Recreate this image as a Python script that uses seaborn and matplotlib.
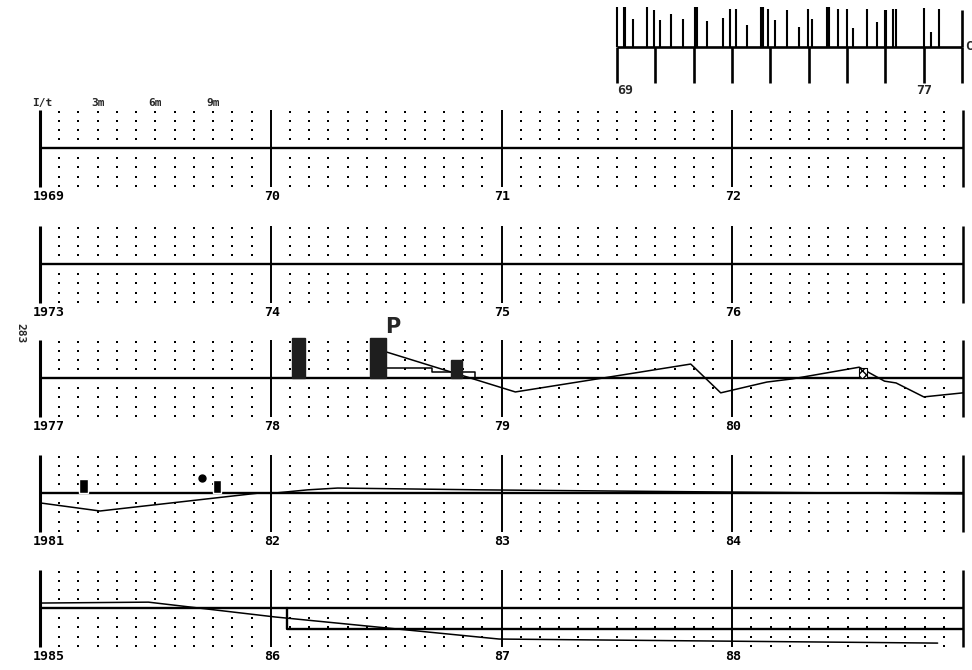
import matplotlib
matplotlib.use("Agg")
import matplotlib.pyplot as plt
import seaborn as sns
import numpy as np
import pandas as pd

# ---- data ----
# each strip covers 4 years
row_starts = [1969, 1973, 1977, 1981, 1985]
row_labels = [["1969", "70", "71", "72"],
              ["1973", "74", "75", "76"],
              ["1977", "78", "79", "80"],
              ["1981", "82", "83", "84"],
              ["1985", "86", "87", "88"]]

# 1977-80 strip
r77_line_x = [1978.50, 1979.06, 1979.33, 1979.82, 1979.95, 1980.15, 1980.26,
              1980.55, 1980.66, 1980.71, 1980.83, 1981.00]
r77_line_y = [2.9, -1.55, -0.45, 1.55, -1.65, -0.45, -0.1, 1.2, -0.35, -0.55, -2.1, -1.65]
r77_step_x = [1978.50, 1978.70, 1978.70, 1978.885, 1978.885]
r77_step_y = [1.1, 1.1, 0.65, 0.65, 0.0]
r77_bar_start = [1978.09, 1978.43, 1978.78]
r77_bar_end = [1978.15, 1978.50, 1978.83]
r77_bar_h = [4.4, 4.4, 2.0]
r77_small_start = [1980.55]
r77_small_end = [1980.585]
r77_small_h = [1.1]

# 1981-84 strip
r81_line_x = [1981.00, 1981.26, 1981.95, 1982.02, 1982.16, 1982.29, 1982.91, 1984.00, 1985.00]
r81_line_y = [-1.1, -2.0, 0.0, 0.0, 0.35, 0.55, 0.35, 0.1, -0.1]
r81_bar_start = [1981.17, 1981.75]
r81_bar_end = [1981.21, 1981.785]
r81_bar_h = [1.6, 1.5]
r81_point_x = [1981.70]
r81_point_y = [1.65]

# 1985-88 strip
r85_line_x = [1985.00, 1985.47, 1986.02, 1986.99, 1988.89]
r85_line_y = [0.55, 0.65, -1.0, -3.45, -3.9]
r85_step_x = [1986.07, 1986.07, 1989.00]
r85_step_y = [0.0, -2.35, -2.35]

# top strip of events 69-77
spike_years = [69.0, 69.17, 69.22, 69.42, 69.78, 69.96, 70.12, 70.41, 70.72, 71.04, 71.10,
               71.34, 71.76, 71.96, 72.10, 72.39, 72.76, 72.80, 72.93, 73.11, 73.43, 73.74,
               73.97, 74.08, 74.47, 74.52, 74.76, 74.99, 75.15, 75.51, 75.77, 75.98, 76.03,
               76.19, 76.29, 77.02, 77.20, 77.41]
spike_h = [40, 40, 40, 28, 40, 37, 27, 33, 28, 40, 40,
           26, 29, 38, 38, 22, 40, 40, 38, 27, 37, 20,
           38, 28, 40, 40, 38, 38, 19, 38, 25, 37, 37,
           38, 38, 39, 15, 38]
strip_years = list(range(69, 79))
strip_labels = {69: "69", 77: "77"}

# ---- style ----
sns.set_theme(style="white")
plt.rcParams['font.family'] = ['DejaVu Sans Mono', 'DejaVu Sans']

W, H = 972, 670
fig = plt.figure(figsize=(W / 100, H / 100), dpi=100)


def px_axes(x0, y0, x1, y1):
    ax = fig.add_axes([x0 / W, 1 - y1 / H, (x1 - x0) / W, (y1 - y0) / H])
    ax.axis('off')
    return ax


PAD = 0.05
PX_YEAR = (963 - 40) / 4.0
baselines = [148, 264, 378, 493, 608]

axes = []
for i, start in enumerate(row_starts):
    b = baselines[i]
    ax = px_axes(40 - PAD * PX_YEAR, b - 45, 963 + PAD * PX_YEAR, b + 45)
    ax.set_xlim(start - PAD, start + 4 + PAD)
    ax.set_ylim(-5, 5)

    # dotted month grid
    mx, my = np.meshgrid([start + k + m / 12 for k in range(4) for m in range(1, 12)],
                         [-4.2, -3.2, -2.1, -1.1, 1, 2, 3, 4])
    grid = pd.DataFrame({'x': mx.ravel(), 'y': my.ravel()})
    sns.scatterplot(data=grid, x='x', y='y', ax=ax, marker='s', s=3.5, color='black',
                    linewidth=0, legend=False)

    # year lines
    ax.vlines(start, -4.3, 4.2, color='black', lw=2.2)
    ax.vlines([start + 1, start + 2, start + 3], -4.3, 4.2, color='black', lw=1.4)
    ax.vlines(start + 4, -4.3, 4.2, color='black', lw=1.8)
    ax.hlines(0, start, start + 4, color='black', lw=1.7)

    for k, lab in enumerate(row_labels[i]):
        ax.text(start + k - 0.03, -5.4, lab, ha='left', va='center', fontsize=9.5,
                fontweight='bold', color='black')
    axes.append(ax)

# header of the first strip
ax0 = axes[0]
ax0.text(1969.01, 5.0, "I/t", ha='center', va='center', fontsize=8, fontweight='bold')
for m, lab in zip([3, 6, 9], ["3m", "6m", "9m"]):
    ax0.text(1969 + m / 12, 5.0, lab, ha='center', va='center', fontsize=8, fontweight='bold')


def trace(ax, xs, ys, lw=1.1):
    sns.lineplot(x=xs, y=ys, ax=ax, color='black', lw=lw, sort=False, estimator=None)


# 1977-80
ax = axes[2]
ax.bar(r77_bar_start, r77_bar_h, width=np.subtract(r77_bar_end, r77_bar_start), align='edge',
       color='#1e1e1e', edgecolor='#1e1e1e', hatch='....', zorder=3)
ax.bar(r77_small_start, r77_small_h, width=np.subtract(r77_small_end, r77_small_start),
       align='edge', facecolor='white', edgecolor='black', hatch='xxxx', lw=0.8, zorder=3)
trace(ax, r77_line_x, r77_line_y)
trace(ax, r77_step_x, r77_step_y)
ax.text(r77_bar_end[1] + 0.03, r77_bar_h[1] + 1.3, "P", ha='center', va='center',
        fontsize=15, fontweight='bold', family='DejaVu Sans')

# 1981-84
ax = axes[3]
ax.bar(r81_bar_start, r81_bar_h, width=np.subtract(r81_bar_end, r81_bar_start), align='edge',
       color='black', zorder=3)
trace(ax, r81_line_x, r81_line_y)
ax.plot(r81_point_x, r81_point_y, 'o', color='black', ms=5)

# 1985-88
ax = axes[4]
trace(ax, r85_line_x, r85_line_y)
trace(ax, r85_step_x, r85_step_y, lw=1.7)

# top event strip
PX_SY = (962 - 617) / 9.0
axs = px_axes(617 - 0.1 * PX_SY, 5, 962 + 0.1 * PX_SY, 87)
axs.set_xlim(68.9, 78.1)
axs.set_ylim(-40, 42)
axs.vlines(spike_years, 0, spike_h, color='black', lw=1.5)
axs.vlines(strip_years, -36, 0, color='black', lw=1.9)
axs.vlines(strip_years[-1], 0, 37, color='black', lw=1.9)
axs.hlines(0, strip_years[0], strip_years[-1], color='black', lw=1.9)
for yr, lab in strip_labels.items():
    axs.text(yr if yr == 69 else yr - 0.2, -44, lab, ha='left', va='center', fontsize=9.5,
             fontweight='bold')
axs.text(78.08, 0, "C", ha='left', va='center', fontsize=9, fontweight='bold')

# page number
fig.text(20 / W, 1 - 333 / H, "283", rotation=270, ha='center', va='center',
         fontsize=8, fontweight='bold')

fig.savefig("out.png", dpi=100, facecolor='white')
